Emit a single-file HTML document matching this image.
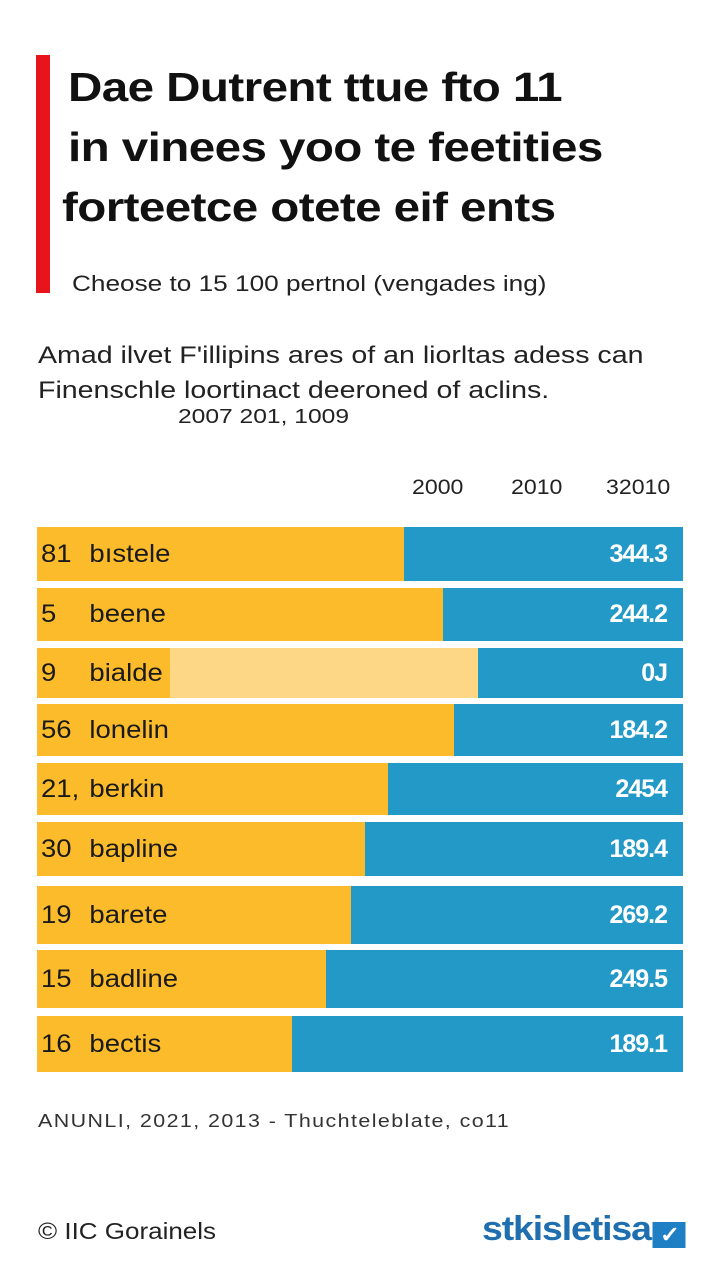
<!DOCTYPE html>
<html><head><meta charset="utf-8"><style>
body{margin:0;width:720px;height:1280px;background:#fff;font-family:"Liberation Sans",sans-serif;position:relative;overflow:hidden}
.a{position:absolute;white-space:nowrap;transform-origin:left center}
.t{font-weight:bold;font-size:41px;color:#111;left:68px;letter-spacing:-0.5px;transform:scaleX(1.16)}
</style></head><body>
<div class="a" style="left:36px;top:55px;width:14px;height:238px;background:#e8141b"></div>
<div class="a t" style="top:64px">Dae Dutrent ttue fto 11</div>
<div class="a t" style="top:124px">in vinees yoo te feetities</div>
<div class="a t" style="top:184px;left:62px">forteetce otete eif ents</div>
<div class="a" style="left:72px;top:271px;font-size:22px;color:#222;transform:scaleX(1.19)">Cheose to 15 100 pertnol (vengades ing)</div>
<div class="a" style="left:38px;top:342px;font-size:24px;color:#222;transform:scaleX(1.19)">Amad ilvet F'illipins ares of an liorltas adess can</div>
<div class="a" style="left:38px;top:377px;font-size:24px;color:#222;transform:scaleX(1.19)">Finenschle loortinact deeroned of aclins.</div>
<div class="a" style="left:178px;top:406px;font-size:20px;color:#222;transform:scaleX(1.23)">2007 201, 1009</div>
<div class="a" style="left:412px;top:476px;font-size:21px;color:#222;transform:scaleX(1.1)">2000</div>
<div class="a" style="left:511px;top:476px;font-size:21px;color:#222;transform:scaleX(1.1)">2010</div>
<div class="a" style="left:606px;top:476px;font-size:21px;color:#222;transform:scaleX(1.1)">32010</div>
<div id="chart"></div>
<div class="a" style="left:38px;top:1111px;font-size:18px;letter-spacing:1.2px;color:#333;transform:scaleX(1.19)">ANUNLI, 2021, 2013 - Thuchteleblate, co11</div>
<div class="a" style="left:38px;top:1218px;font-size:23px;color:#222;transform:scaleX(1.13)">© IIC Gorainels</div>
<div class="a" style="left:482px;top:1210px;font-size:34px;font-weight:bold;color:#1f6fb0;letter-spacing:-1px;transform:scaleX(1.1)">stkisletisa<span style="display:inline-block;width:30px;height:26px;background:#1f7fc4;vertical-align:-2px;margin-left:2px;color:#fff;font-size:22px;text-align:center;line-height:26px">✓</span></div>
<script>
const ranks=["81","5","9","56","21,","30","19","15","16"];
const categories=["bıstele","beene","bialde","lonelin","berkin","bapline","barete","badline","bectis"];
const shareValues=[56.8,62.8,68.3,64.6,54.3,50.8,48.6,44.7,39.5];
const printedValues=["344.3","244.2","0J","184.2","2454","189.4","269.2","249.5","189.1"];
const rowTops=[527,588,648,704,763,822,886,950,1016];
const rowHeights=[54,53,50,52,52,54,58,58,56];
const X0=37,W=646;
function x(v){return X0+v/100*W;}
const c=document.getElementById('chart');
for(let i=0;i<categories.length;i++){
  const r=document.createElement('div');
  
  
  r.className='a';
  r.style.cssText=`left:${X0}px;top:${rowTops[i]}px;width:${W}px;height:${rowHeights[i]}px;background:#2299c6`;
  const y=document.createElement('div');
  
  
  y.className='a';
  y.style.cssText=`left:0;top:0;height:100%;width:${x(shareValues[i])-X0}px;background:#fbbb2b`;
  if(i===2){const l=document.createElement('div');l.className='a';l.style.cssText='left:133px;top:0;height:100%;right:0;background:#fdd786';y.appendChild(l);}
  r.appendChild(y);
  const lab=document.createElement('div');
  
  
  lab.className='a';
  lab.style.cssText=`left:4px;top:0;line-height:${rowHeights[i]}px;font-size:25px;color:#1a1a1a;transform:scaleX(1.1)`;
  lab.innerHTML=`<span style="display:inline-block;width:44px">${ranks[i]}</span>${categories[i]}`;
  r.appendChild(lab);
  const v=document.createElement('div');
  
  
  v.className='a';
  v.style.cssText=`right:16px;top:0;line-height:${rowHeights[i]}px;font-size:25px;font-weight:bold;color:#fff;letter-spacing:-1px;transform-origin:right center`;
  v.textContent=printedValues[i];
  r.appendChild(v);
  c.appendChild(r);
}
</script>
</body></html>
